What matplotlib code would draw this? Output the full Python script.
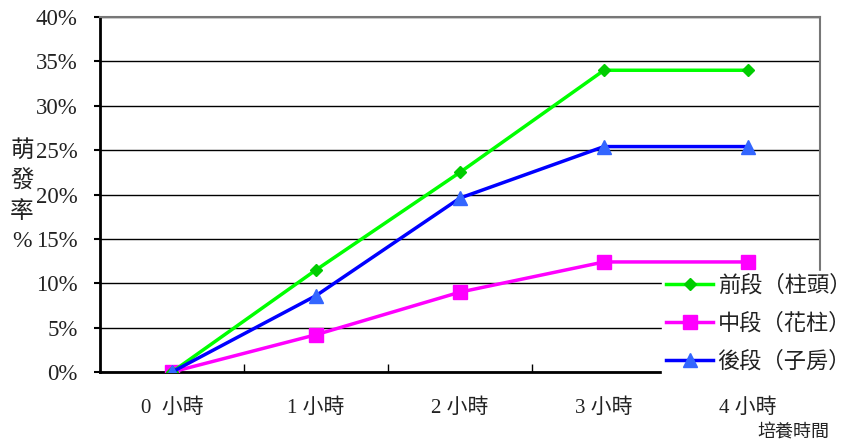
import matplotlib.pyplot as plt
from matplotlib.ticker import FuncFormatter

plt.rcParams['font.family'] = ['Liberation Serif', 'Noto Sans CJK TC', 'DejaVu Sans']

# germination rate (%) after each incubation time
hours = ['0  小時', '1 小時', '2 小時', '3 小時', '4 小時']
front = [0, 11.5, 22.5, 34.0, 34.0]    # 前段（柱頭）
middle = [0, 4.2, 9.0, 12.4, 12.4]     # 中段（花柱）
back = [0, 8.6, 19.6, 25.4, 25.4]      # 後段（子房）

fig = plt.figure(figsize=(8.5, 4.43), dpi=100)
ax = fig.add_axes([100 / 850, 71 / 443, 720 / 850, 355 / 443])

x = range(len(hours))
ax.plot(x, front, color='#00ff00', lw=2.5, marker='D', ms=6, mfc='#00cc00', mec='#00cc00',
        label='前段（柱頭）', zorder=4)
ax.plot(x, middle, color='#ff00ff', lw=2.5, marker='s', ms=10, mfc='#ff00ff', mec='#ff00ff',
        label='中段（花柱）', zorder=3)
ax.plot(x, back, color='#0000ff', lw=2.5, marker='^', ms=10, mfc='#3366ff', mec='#3366ff',
        label='後段（子房）', zorder=5)

ax.set_xlim(-0.5, len(hours) - 0.5)
ax.set_ylim(0, 40)
ax.set_yticks(range(0, 41, 5))
ax.yaxis.set_major_formatter(FuncFormatter(lambda v, p: f'{v:.0f}%'))
ax.yaxis.grid(True, color='black', lw=1)
ax.set_axisbelow(True)

# ticks sit on category boundaries, labels centred under categories
ax.set_xticks([i + 0.5 for i in range(len(hours) - 1)])
ax.set_xticklabels([])
ax.set_xticks(list(x), minor=True)
ax.set_xticklabels(hours, minor=True, fontsize=15, color='#222222')
ax.tick_params(axis='x', which='major', direction='in', length=6, width=1)
ax.tick_params(axis='x', which='minor', length=0, pad=19)
ax.tick_params(axis='y', direction='out', length=4, width=1.5, labelsize=16.5,
               labelcolor='#222222', pad=12)

for s in ['top', 'right']:
    ax.spines[s].set_color('#777777')
    ax.spines[s].set_linewidth(1.5)
for s in ['left', 'bottom']:
    ax.spines[s].set_color('black')
    ax.spines[s].set_linewidth(2)

fig.text(22 / 850, 1 - 196 / 443, '萌\n發\n率\n%', fontsize=17, color='#222222',
         ha='center', va='center', linespacing=1.5)
fig.text(793 / 850, 1 - 432 / 443, '培養時間', fontsize=13, color='#222222',
         ha='center', va='center')

leg = ax.legend(loc='upper left', bbox_to_anchor=(662 / 850, 1 - 271 / 443),
                bbox_transform=fig.transFigure, frameon=True, fancybox=False,
                edgecolor='white', framealpha=1, fontsize=16, handlelength=2.1,
                handletextpad=0.2, labelspacing=0.75, borderpad=0.2, borderaxespad=0)
leg.set_zorder(10)
for t in leg.get_texts():
    t.set_color('#222222')

fig.savefig('out.png', dpi=100)
